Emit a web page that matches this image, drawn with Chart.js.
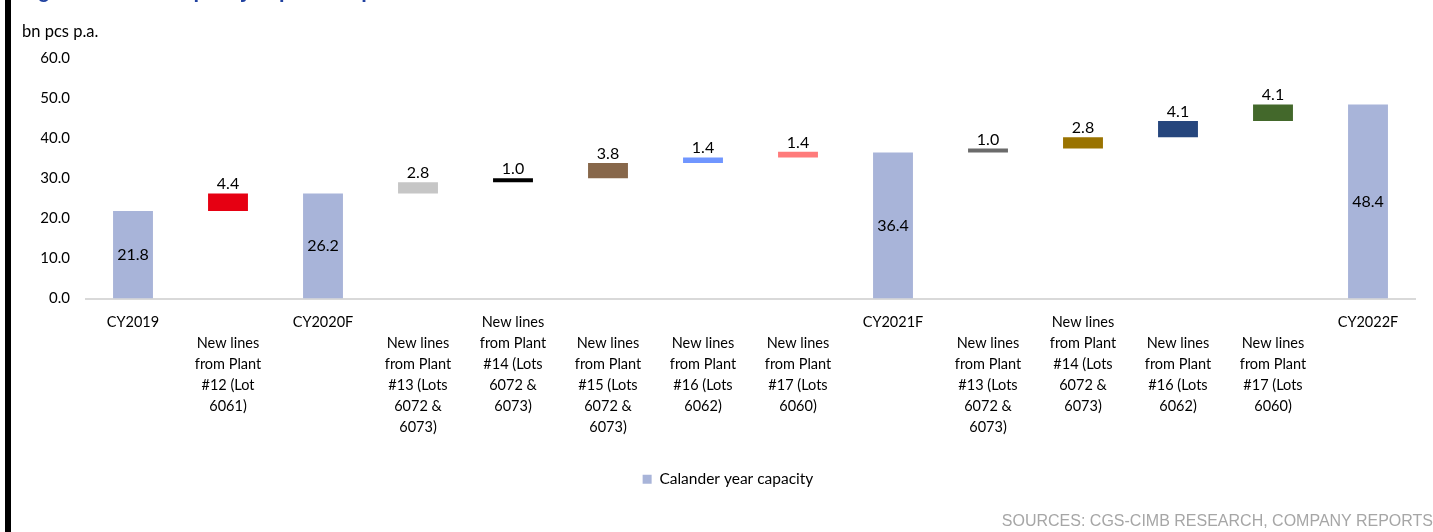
<!DOCTYPE html>
<html>
<head>
<meta charset="utf-8">
<script src="https://cdn.jsdelivr.net/npm/chart.js@4/dist/chart.umd.min.js"></script>
<style>
  html, body { margin: 0; padding: 0; background: #fff; width: 1433px; height: 532px; overflow: hidden; }
  #edge { position: absolute; left: 5px; top: 0; width: 6px; height: 532px; background: #000; }
  #title { position: absolute; left: 20px; top: -20px; font: bold 20px "Liberation Sans", Arial, sans-serif; color: #2142A0; white-space: nowrap; }
  #unit { position: absolute; left: 22px; top: 21px; font: 16.5px Lato, sans-serif; color: #000; }
  #source { position: absolute; right: 0; top: 512px; font: 16px "Liberation Sans", Arial, sans-serif; color: #A6A6A6; white-space: nowrap; }
  #chart { position: absolute; left: 0; top: 0; }
</style>
</head>
<body>
<canvas id="chart" width="1433" height="532"></canvas>
<div id="edge"></div>
<div id="title">Figure 9: Glove capacity expansion plan</div>
<div id="unit">bn pcs p.a.</div>
<div id="source">SOURCES: CGS-CIMB RESEARCH, COMPANY REPORTS</div>
<script>
// Category labels (one entry per bar, each split into its printed lines)
const categories = [
  ["CY2019"],
  ["New lines", "from Plant", "#12 (Lot", "6061)"],
  ["CY2020F"],
  ["New lines", "from Plant", "#13 (Lots", "6072 &", "6073)"],
  ["New lines", "from Plant", "#14 (Lots", "6072 &", "6073)"],
  ["New lines", "from Plant", "#15 (Lots", "6072 &", "6073)"],
  ["New lines", "from Plant", "#16 (Lots", "6062)"],
  ["New lines", "from Plant", "#17 (Lots", "6060)"],
  ["CY2021F"],
  ["New lines", "from Plant", "#13 (Lots", "6072 &", "6073)"],
  ["New lines", "from Plant", "#14 (Lots", "6072 &", "6073)"],
  ["New lines", "from Plant", "#16 (Lots", "6062)"],
  ["New lines", "from Plant", "#17 (Lots", "6060)"],
  ["CY2022F"]
];

// Calendar-year capacity totals (bn pcs p.a.)
const capacity = [21.8, null, 26.2, null, null, null, null, null, 36.4, null, null, null, null, 48.4];

// Capacity added by each batch of new lines (bn pcs p.a.)
const additions = [null, 4.4, null, 2.8, 1.0, 3.8, 1.4, 1.4, null, 1.0, 2.8, 4.1, 4.1, null];

// Y axis range and step
const yMin = 0, yMax = 60, yStep = 10;

// Fill colours for the added-capacity blocks
const additionColors = [null, '#E60012', null, '#C6C6C6', '#000000', '#87674A', '#7096FF', '#FF7B7B',
                        null, '#6B6B6B', '#9A7300', '#26467D', '#43682B', null];
const capacityColor = '#A8B4D9';

// Labels printed one line lower so neighbouring labels do not collide
const droppedLabels = new Set([1, 3, 5, 6, 7, 9, 11, 12]);

// Floating [from, to] ranges: each addition sits on top of the running total
const floating = [];
let running = 0;
for (let i = 0; i < categories.length; i++) {
  if (capacity[i] != null) { running = capacity[i]; floating.push(null); }
  else if (additions[i] != null) { floating.push([running, running + additions[i]]); running += additions[i]; }
  else floating.push(null);
}

const FONT = 'Lato, sans-serif';

const valueLabels = {
  id: 'valueLabels',
  afterDatasetsDraw(chart) {
    const ctx = chart.ctx;
    ctx.save();
    ctx.font = '16px ' + FONT;
    ctx.fillStyle = '#000';
    ctx.textAlign = 'center';
    chart.getDatasetMeta(0).data.forEach((bar, i) => {
      if (capacity[i] == null) return;
      ctx.textBaseline = 'middle';
      ctx.fillText(capacity[i].toFixed(1), bar.x, (bar.y + bar.base) / 2);
    });
    chart.getDatasetMeta(1).data.forEach((bar, i) => {
      if (additions[i] == null) return;
      ctx.textBaseline = 'alphabetic';
      ctx.fillText(additions[i].toFixed(1), bar.x, Math.min(bar.y, bar.base) - 4);
    });
    ctx.restore();
  }
};

new Chart(document.getElementById('chart'), {
  type: 'bar',
  data: {
    labels: categories,
    datasets: [
      {
        label: 'Calander year capacity',
        data: capacity,
        backgroundColor: capacityColor,
        grouped: false,
        barPercentage: 0.42,
        categoryPercentage: 1
      },
      {
        label: 'Additions',
        data: floating,
        backgroundColor: additionColors,
        grouped: false,
        barPercentage: 0.42,
        categoryPercentage: 1
      }
    ]
  },
  options: {
    responsive: false,
    animation: false,
    devicePixelRatio: 1,
    layout: { padding: { left: 40.5, right: 17.5, top: 58, bottom: 35 } },
    plugins: {
      legend: {
        position: 'bottom',
        labels: {
          filter: item => item.datasetIndex === 0,
          boxWidth: 9,
          boxHeight: 9,
          padding: 10,
          color: '#000',
          font: { family: FONT, size: 15.5 }
        }
      },
      tooltip: { enabled: false }
    },
    scales: {
      x: {
        grid: { display: false, drawTicks: false },
        border: { color: '#D9D9D9', width: 2 },
        ticks: {
          autoSkip: false,
          maxRotation: 0,
          padding: 13,
          color: '#000',
          font: { family: FONT, size: 14.5, lineHeight: 1.45 },
          callback: (v, i) => droppedLabels.has(i) ? [''].concat(categories[i]) : categories[i]
        },
        afterFit: s => { s.height = 163; }
      },
      y: {
        min: yMin,
        max: yMax,
        grid: { display: false, drawTicks: false },
        border: { display: false },
        ticks: {
          stepSize: yStep,
          padding: 15.5,
          color: '#000',
          font: { family: FONT, size: 15 },
          callback: v => Number(v).toFixed(1)
        },
        afterFit: s => { s.width = 45; }
      }
    }
  },
  plugins: [valueLabels]
});
</script>
</body>
</html>
